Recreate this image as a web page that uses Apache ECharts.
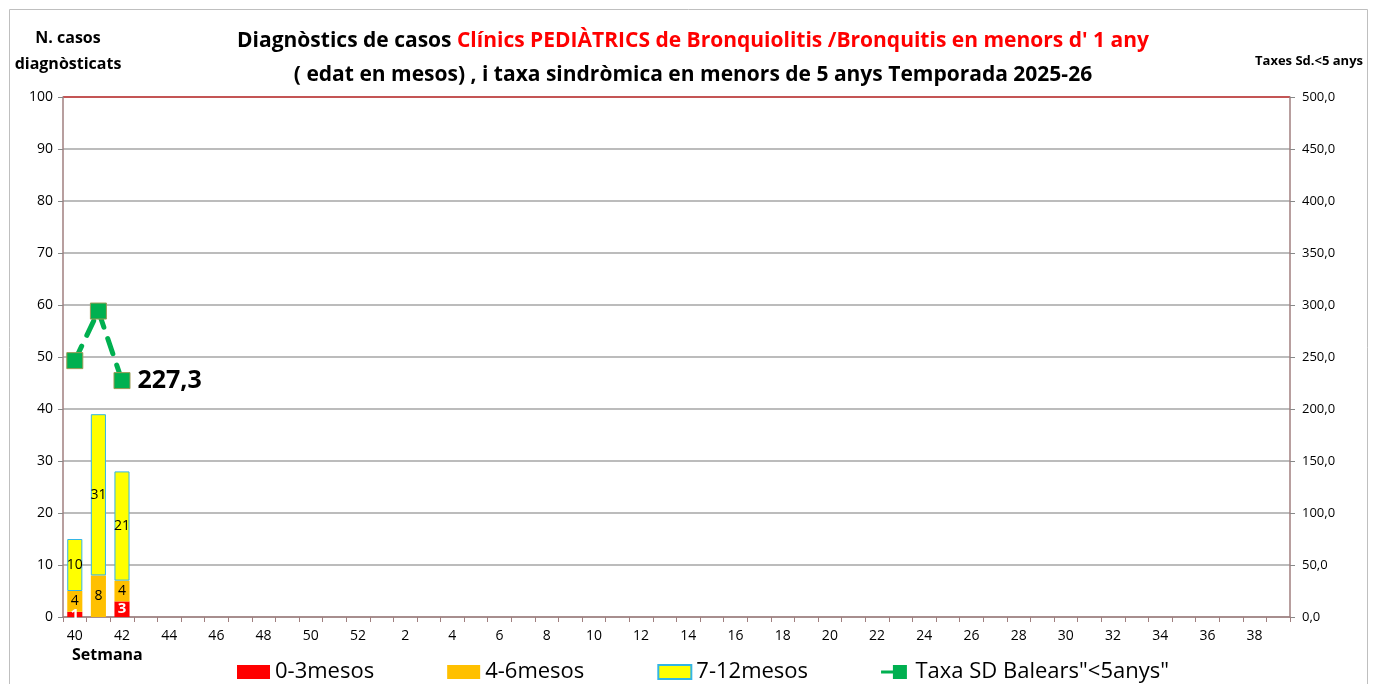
<!DOCTYPE html>
<html>
<head>
<meta charset="utf-8">
<script src="https://cdn.jsdelivr.net/npm/echarts@6/dist/echarts.min.js"></script>
<style>
  html, body { margin: 0; padding: 0; background: #fff; }
  #chart { width: 1376px; height: 684px; }
</style>
</head>
<body>
<div id="chart"></div>
<script>
// setmanes 40..52, 1..39
const weeks = []
for (let w = 40; w <= 52; w++) weeks.push(String(w))
for (let w = 1; w <= 39; w++) weeks.push(String(w))

const cases0to3 = [1, 0, 3]
const cases4to6 = [4, 8, 4]
const cases7to12 = [10, 31, 21]
const taxaSD = [246.5, 294.2, 227.3]

const leftTicks = [0, 100, 10]
const rightTicks = [0, 500, 50]

const font = 'Open Sans'
const chart = echarts.init(document.getElementById('chart'))

const hideZero = (p) => (p.value ? p.value : '')

// short dash + square
const lineIcon = 'path://M0,5.5 L12,5.5 L12,8.5 L0,8.5 Z M11,0.5 L24,0.5 L24,13.5 L11,13.5 Z'

const option = {
  animation: false,
  textStyle: { fontFamily: font },
  title: {
    text: 'Diagnòstics de casos {r|Clínics PEDIÀTRICS de Bronquiolitis /Bronquitis en menors d\' 1 any}\n( edat en mesos) , i taxa sindròmica en menors de 5 anys Temporada 2025-26',
    left: 688,
    top: 19,
    textAlign: 'center',
    textStyle: {
      fontFamily: font,
      fontSize: 21,
      fontWeight: 'bold',
      color: '#000',
      lineHeight: 34,
      rich: {
        r: { fontFamily: font, fontSize: 21, fontWeight: 'bold', color: '#ff0000', lineHeight: 34 },
      },
    },
  },
  graphic: [
    {
      type: 'rect',
      shape: { x: 9.5, y: 9.5, width: 1358, height: 700 },
      style: { fill: 'none', stroke: '#bfbfbf', lineWidth: 1 },
      silent: true,
    },
    {
      type: 'text',
      left: 72,
      top: 647,
      style: { text: 'Setmana', font: 'bold 16px "Open Sans"', fill: '#000' },
    },
  ],
  legend: {
    left: 232,
    top: 656,
    itemGap: 73,
    itemWidth: 33,
    itemHeight: 14,
    textStyle: { fontSize: 22, color: '#000', fontFamily: font },
    data: [
      { name: '0-3mesos', icon: 'rect' },
      { name: '4-6mesos', icon: 'rect' },
      { name: '7-12mesos', icon: 'rect' },
      { name: 'Taxa SD Balears"<5anys"', icon: lineIcon, itemStyle: { borderWidth: 0 } },
    ],
  },
  grid: { left: 63, right: 86, top: 97, bottom: 67, containLabel: false },
  xAxis: {
    type: 'category',
    data: weeks,
    boundaryGap: true,
    axisLine: { lineStyle: { color: '#a07f7f', width: 1.5 } },
    axisTick: { show: true, interval: 0, length: 5, lineStyle: { color: '#a07f7f' } },
    axisLabel: { interval: 1, color: '#000', fontSize: 14, margin: 12 },
  },
  yAxis: [
    {
      type: 'value',
      min: leftTicks[0],
      max: leftTicks[1],
      interval: leftTicks[2],
      name: 'N. casos\ndiagnòsticats',
      nameLocation: 'end',
      nameGap: 20,
      nameTextStyle: { fontWeight: 'bold', fontSize: 16, color: '#000', align: 'center', lineHeight: 26, padding: [0, 0, 0, 10] },
      axisLine: { show: true, lineStyle: { color: '#a07f7f', width: 1.5 } },
      axisTick: { show: true, length: 5, lineStyle: { color: '#888' } },
      axisLabel: { color: '#000', fontSize: 14, margin: 10 },
      splitLine: {
        show: true,
        lineStyle: {
          color: ['#a6a6a6', '#a6a6a6', '#a6a6a6', '#a6a6a6', '#a6a6a6', '#a6a6a6', '#a6a6a6', '#a6a6a6', '#a6a6a6', '#a6a6a6', '#b01c1c'],
          width: 1.5,
        },
      },
    },
    {
      type: 'value',
      min: rightTicks[0],
      max: rightTicks[1],
      interval: rightTicks[2],
      name: 'Taxes Sd.<5 anys',
      nameLocation: 'end',
      nameGap: 29,
      nameTextStyle: { fontWeight: 'bold', fontSize: 13, color: '#000', align: 'center', padding: [0, 0, 0, 38] },
      axisLine: { show: true, lineStyle: { color: '#a07f7f', width: 1.5 } },
      axisTick: { show: true, length: 5, lineStyle: { color: '#888' } },
      axisLabel: {
        color: '#000',
        fontSize: 13,
        margin: 12,
        formatter: (v) => v.toFixed(1).replace('.', ','),
      },
      splitLine: { show: false },
    },
  ],
  series: [
    {
      name: '0-3mesos',
      type: 'bar',
      stack: 'edat',
      barWidth: '64%',
      itemStyle: { color: '#ff0000' },
      label: { show: true, position: 'inside', color: '#fff', fontWeight: 'bold', fontSize: 15, formatter: hideZero },
      data: cases0to3,
    },
    {
      name: '4-6mesos',
      type: 'bar',
      stack: 'edat',
      itemStyle: { color: '#ffc000' },
      label: { show: true, position: 'inside', color: '#000', fontSize: 14, formatter: hideZero },
      data: cases4to6,
    },
    {
      name: '7-12mesos',
      type: 'bar',
      stack: 'edat',
      itemStyle: { color: '#ffff00', borderColor: '#33b5e5', borderWidth: 1 },
      label: { show: true, position: 'inside', color: '#000', fontSize: 14, formatter: hideZero },
      data: cases7to12,
    },
    {
      name: 'Taxa SD Balears"<5anys"',
      type: 'line',
      yAxisIndex: 1,
      symbol: 'rect',
      symbolSize: 16,
      showAllSymbol: true,
      itemStyle: { color: '#00b050', borderColor: '#9a9a55', borderWidth: 1 },
      lineStyle: { color: '#00b050', width: 5, type: [16, 12], cap: 'round' },
      z: 5,
      label: {
        show: true,
        position: 'right',
        distance: 7,
        fontSize: 25,
        fontWeight: 'bold',
        color: '#000',
        formatter: (p) => (p.dataIndex === taxaSD.length - 1 ? p.value.toFixed(1).replace('.', ',') : ''),
      },
      data: taxaSD,
    },
  ],
}

chart.setOption(option)
</script>
</body>
</html>
